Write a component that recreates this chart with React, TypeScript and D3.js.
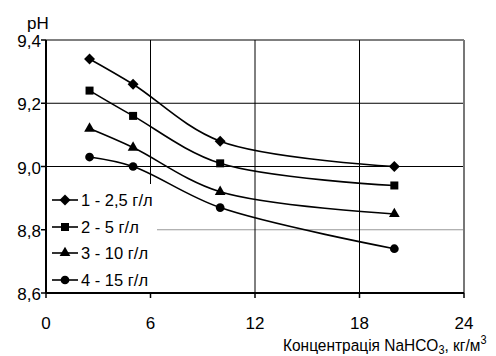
import React from "react";
import * as d3 from "d3";

const xValues = [2.5, 5, 10, 20];
const seriesNames = ["1 - 2,5 г/л", "2 - 5 г/л", "3 - 10 г/л", "4 - 15 г/л"];
const series1 = [9.34, 9.26, 9.08, 9.0];
const series2 = [9.24, 9.16, 9.01, 8.94];
const series3 = [9.12, 9.06, 8.92, 8.85];
const series4 = [9.03, 9.0, 8.87, 8.74];
const xTicks = [0, 6, 12, 18, 24];
const yTicks = [8.6, 8.8, 9.0, 9.2, 9.4];
const markerTypes = ["diamond", "square", "triangle", "circle"];

const allSeries = [series1, series2, series3, series4];

// square diamond (d3's built-in one is too tall)
const flatDiamond = {
  draw(ctx: any, size: number) {
    const r = Math.sqrt(size / 2);
    ctx.moveTo(0, -r);
    ctx.lineTo(r, 0);
    ctx.lineTo(0, r);
    ctx.lineTo(-r, 0);
    ctx.closePath();
  },
};

const symbolFor = (t: string) => {
  if (t === "diamond") return d3.symbol(flatDiamond as any, 60);
  if (t === "square") return d3.symbol(d3.symbolSquare, 64);
  if (t === "triangle") return d3.symbol(d3.symbolTriangle, 50);
  return d3.symbol(d3.symbolCircle, 60);
};

const fmt = (v: number) => v.toFixed(1).replace(".", ",");

export default function App() {
  const width = 496;
  const height = 356;
  const margin = { top: 40, right: 32, bottom: 63, left: 46 };

  const x = d3.scaleLinear().domain([0, 24]).range([margin.left, width - margin.right]);
  const y = d3.scaleLinear().domain([8.6, 9.4]).range([height - margin.bottom, margin.top]);

  const line = d3
    .line<number>()
    .x((_, i) => x(xValues[i]))
    .y((d) => y(d))
    .curve(d3.curveCatmullRom.alpha(0.5));

  const font = "Arial, 'Liberation Sans', sans-serif";
  const legendY = [200, 227, 253, 280];

  return (
    <svg width={width} height={height} style={{ position: "absolute", left: 0, top: 0 }}>
      <rect width={width} height={height} fill="#fff" />
      {/* grid */}
      {yTicks.slice(1).map((t) => (
        <line
          key={"gy" + t}
          x1={x(0)}
          x2={x(24)}
          y1={y(t)}
          y2={y(t)}
          stroke={t === 8.8 ? "#999" : "#000"}
          strokeWidth={1}
        />
      ))}
      {xTicks.slice(1, 4).map((t) => (
        <line key={"gx" + t} x1={x(t)} x2={x(t)} y1={y(9.4)} y2={y(8.6)} stroke="#000" strokeWidth={1} />
      ))}
      <line x1={x(24)} x2={x(24)} y1={y(9.4)} y2={y(8.6)} stroke="#777" strokeWidth={2} />

      {/* series */}
      {allSeries.map((s, i) => (
        <g key={"s" + i}>
          <path d={line(s) || ""} fill="none" stroke="#000" strokeWidth={1.6} />
          {s.map((v, j) => (
            <path
              key={j}
              d={symbolFor(markerTypes[i])() || ""}
              transform={`translate(${x(xValues[j])},${y(v)})`}
              fill="#000"
            />
          ))}
        </g>
      ))}

      {/* legend */}
      <rect x={x(0) + 1} y={184} width={110} height={y(8.6) - 185} fill="#fff" />
      {seriesNames.map((n, i) => (
        <g key={"l" + i}>
          <line x1={52} x2={78} y1={legendY[i]} y2={legendY[i]} stroke="#000" strokeWidth={1.6} />
          <path d={symbolFor(markerTypes[i])() || ""} transform={`translate(65,${legendY[i]})`} fill="#000" />
          <text x={81} y={legendY[i] + 6} fontFamily={font} fontSize={16.5}>
            {n}
          </text>
        </g>
      ))}

      {/* axes */}
      <line x1={x(0)} x2={x(0)} y1={y(9.4)} y2={y(8.6)} stroke="#000" strokeWidth={2} />
      <line x1={x(0)} x2={x(24)} y1={y(8.6)} y2={y(8.6)} stroke="#000" strokeWidth={2} />
      {yTicks.map((t) => (
        <g key={"ty" + t}>
          <line x1={x(0) - 5} x2={x(0)} y1={y(t)} y2={y(t)} stroke="#000" strokeWidth={1.5} />
          <text x={x(0) - 5} y={y(t) + 7} textAnchor="end" fontFamily={font} fontSize={17}>
            {fmt(t)}
          </text>
        </g>
      ))}
      {xTicks.map((t) => (
        <g key={"tx" + t}>
          <line x1={x(t)} x2={x(t)} y1={y(8.6)} y2={y(8.6) + 5} stroke="#000" strokeWidth={1.5} />
          <text x={x(t)} y={329} textAnchor="middle" fontFamily={font} fontSize={17}>
            {t}
          </text>
        </g>
      ))}
      <text x={27} y={29} fontFamily={font} fontSize={17}>
        pH
      </text>
      <g transform="translate(283,351) scale(0.91,1)">
        <text x={0} y={0} fontFamily={font} fontSize={17}>
          Концентрація NaHCO
          <tspan fontSize={12} dy={3}>3</tspan>
          <tspan dy={-3}>, кг/м</tspan>
          <tspan fontSize={12} dy={-7}>3</tspan>
        </text>
      </g>
    </svg>
  );
}
